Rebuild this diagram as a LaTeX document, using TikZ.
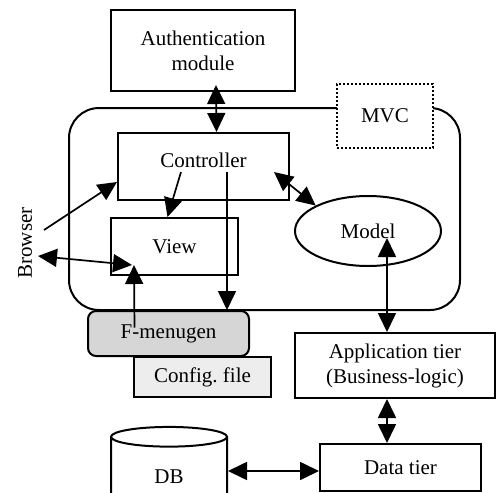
\documentclass[tikz,border=0pt]{standalone}
\usepackage{fontspec}
\setmainfont{Liberation Serif}
\usetikzlibrary{shapes,arrows.meta}
\tikzstyle{block} = [rectangle, draw, line width=2pt, align=center, inner sep=0pt]
\tikzstyle{line} = [draw, line width=1.7pt, -{Triangle[length=19pt,width=18pt]}]
\tikzstyle{biline} = [draw, line width=1.7pt,
    {Triangle[length=19pt,width=18pt]}-{Triangle[length=19pt,width=18pt]}]

\begin{document}
\begin{tikzpicture}[x=1pt, y=-1pt, font=\fontsize{21}{25}\selectfont]
	\useasboundingbox (0,0) rectangle (496,493);
	
	% MVC frame
	\node [draw, line width=2pt, rounded corners=30pt, minimum width=391pt, minimum height=202pt] (frame) at (264.5,209) {};
	\node [block, dotted, fill=white, minimum width=96pt, minimum height=64pt] (mvc) at (385,116) {MVC};
	
	\node [block, minimum width=184pt, minimum height=81pt] (auth) at (203,50.5) {Authentication\\module};
	\node [block, minimum width=171pt, minimum height=67pt, text height=15pt, text depth=14pt] (controller) at (203.5,166.5) {Controller};
	\node [block, minimum width=127pt, minimum height=57pt] (view) at (174.5,246.5) {View};
	\node [ellipse, draw, line width=2pt, inner sep=0pt, minimum width=146pt, minimum height=70pt] (model) at (368,231) {Model};
	
	\node [block, fill=black!7, minimum width=137pt, minimum height=40pt] (config) at (202.5,377) {Config.\ file};
	\node [block, rounded corners=8pt, fill=black!16, minimum width=161pt, minimum height=45pt] (fmenugen) at (168.5,333.5) {F-menugen};
	
	\node [block, minimum width=200pt, minimum height=65pt] (app) at (395,365.5) {Application tier\\(Business-logic)};
	\node [block, minimum width=161pt, minimum height=47pt] (data) at (400.5,467.5) {Data tier};
	\node [cylinder, draw, line width=2pt, shape border rotate=90, aspect=0.55, minimum width=116pt, minimum height=86pt] (db) at (169,477) {DB};
	
	\node [rotate=90] (browser) at (25,243) {Browser};
	
	% connectors
	\coordinate (ctrlout) at ([shift={(23.5,5.5)}]controller.center);
	\coordinate (dataport) at ([shift={(0,3.5)}]data.west);
	
	\path [biline] ([shift={(13,-7)}]auth.south) -- ([shift={(13,0)}]controller.north);
	\path [line] ([shift={(19,-13)}]browser.center) -- ([shift={(0,15.5)}]controller.west);
	\path [biline] ([shift={(13,13)}]browser.center) -- ([shift={(22,-11)}]view.south west);
	\path [line] ([shift={(-22.5,5.5)}]controller.center) -- ([shift={(-7,0)}]view.north);
	\path [line] (ctrlout) -- (ctrlout |- fmenugen.north);
	\path [line] ([shift={(-34,-6)}]fmenugen.center) -- ([shift={(24,-11)}]view.south west);
	\path [biline] ([shift={(-16,5.5)}]controller.east) -- (model.north west);
	\path [biline] ([shift={(19,7)}]model.center) -- ([shift={(-8,0)}]app.north);
	\path [biline] ([shift={(-8,0)}]app.south) -- ([shift={(-13.5,0)}]data.north);
	\path [biline] (dataport -| db.east) -- (dataport);
\end{tikzpicture}
\end{document}
